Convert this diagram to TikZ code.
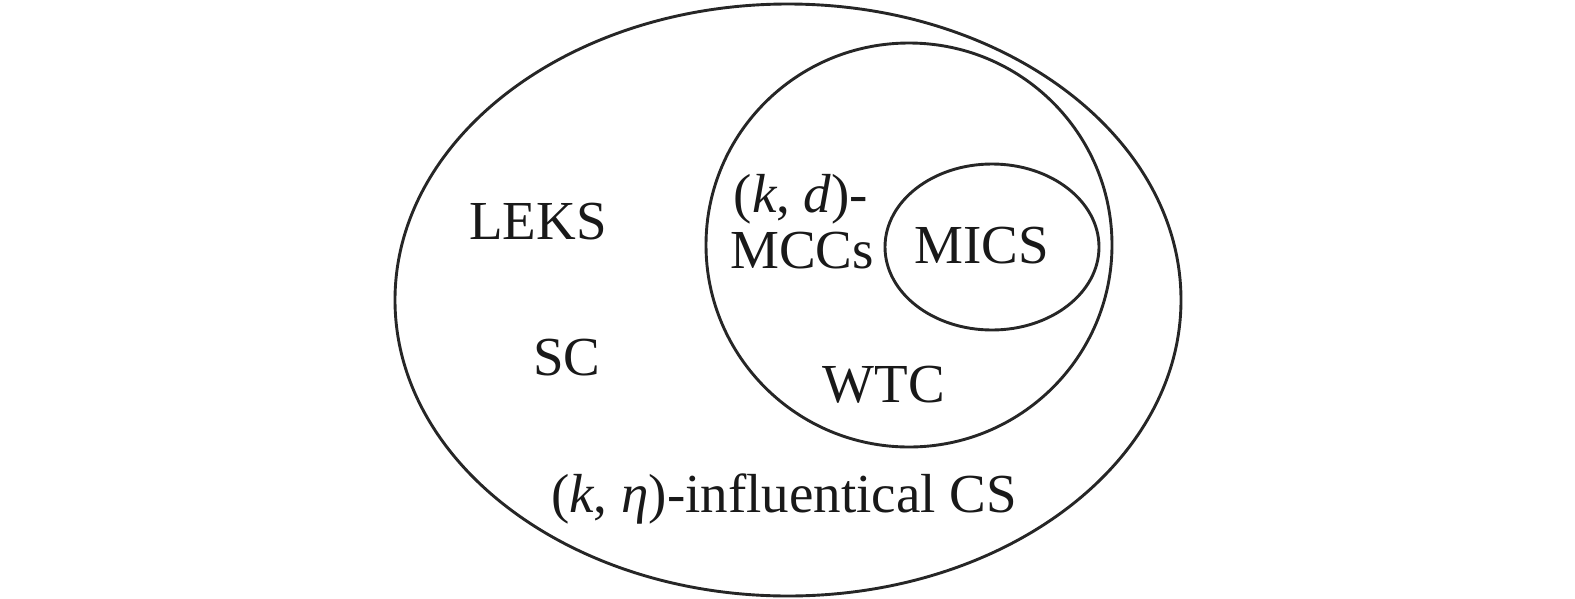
\documentclass[tikz,border=0pt]{standalone}
\usepackage{fontspec}
\setmainfont{Liberation Serif}
\begin{document}
\begin{tikzpicture}[x=1pt,y=-1pt,
  setline/.style={draw=black!85,line width=2.9pt},
  lbl/.style={anchor=base,inner sep=0pt,font=\fontsize{55}{60}\selectfont,text=black!90}]
\useasboundingbox (0,0) rectangle (1575,598);
\coordinate (outerc) at (788,300);
\coordinate (midc) at (909,245);
\coordinate (innerc) at (992,247);
\draw[setline] (outerc) ellipse [x radius=393pt,y radius=296pt];
\draw[setline] (midc) ellipse [x radius=203pt,y radius=202pt];
\draw[setline] (innerc) ellipse [x radius=107pt,y radius=83pt];
\node[lbl] (leks) at (538,239) {LEKS};
\node[lbl] (sc) at (567,375) {SC};
\node[lbl] (kd) at (801,212) {(\textit{k}, \textit{d})-};
\node[lbl] (mccs) at (802,268) {MCCs};
\node[lbl] (mics) at (982,263) {MICS};
\node[lbl] (wtc) at (884,402) {WTC};
\node[lbl] (keta) at (784,512) {(\textit{k}, \textit{η})-influentical CS};
\end{tikzpicture}
\end{document}
